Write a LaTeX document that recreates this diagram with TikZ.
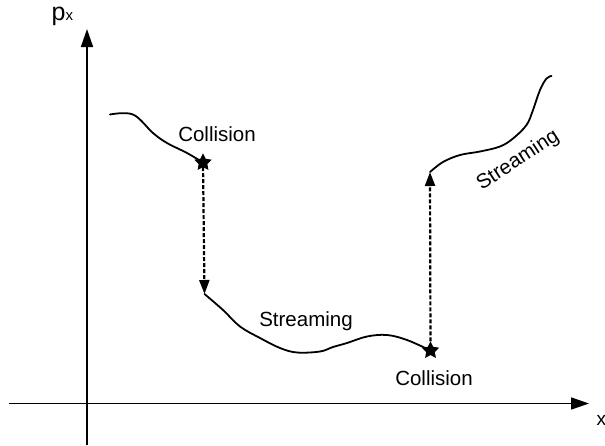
\documentclass[tikz,border=0pt]{standalone}
\usepackage{fontspec}
\setmainfont{Liberation Sans}
\usetikzlibrary{arrows.meta,shapes.geometric}
\begin{document}
\begin{tikzpicture}[x=1pt,y=-1pt,
 curve/.style={line width=1.8pt, line join=round, line cap=round},
 axis/.style={line width=1.6pt,-{Triangle[length=18pt,width=12pt]}},
 jump/.style={line width=2.2pt, dash pattern=on 4pt off 2pt, -{Triangle[length=14pt,width=10pt]}},
 collide/.style={star, star points=5, star point ratio=2.0, fill=black, draw=black, line width=1pt, inner sep=0pt, minimum size=16pt},
 lbl/.style={font=\fontsize{20.5}{24}\selectfont, inner sep=0pt, anchor=base}]
\useasboundingbox (0,0) rectangle (605,445);
% axes
\coordinate (yb) at (87,445);
\coordinate (yt) at (87,29);
\coordinate (xl) at (9,403.5);
\coordinate (xr) at (589,403.5);
\draw[axis] (yb) -- (yt);
\draw[axis] (xl) -- (xr);
\node[inner sep=0pt, anchor=base west, font=\fontsize{25}{27}\selectfont] (plabel) at (51.5,20) {p\fontsize{15}{16}\selectfont x};
\node[inner sep=0pt, anchor=base west, font=\fontsize{19}{21}\selectfont] (xlabel) at (596.5,425.5) {x};
% collisions
\node[collide] (c1) at (203,162.5) {};
\node[collide] (c2) at (430.5,350.5) {};
\coordinate (b1) at (204.5,294);
\coordinate (b2) at (430,172);
% trajectory pieces
\draw[curve] plot[smooth, tension=0.6] coordinates {(110,114.5) (133,114.5) (153,133) (167,143) (187,153) (c1.center)};
\draw[curve] plot[smooth, tension=0.6] coordinates {(b1) (223,310) (240,326.5) (260,338) (280,348) (297,352.5) (320,351.5) (333,347) (347,343) (367,336.5) (387,335) (407,340) (c2.center)};
\draw[curve] plot[smooth, tension=0.6] coordinates {(b2) (443,162) (460,155) (480,151.5) (500,146.5) (513,138.5) (526.5,125) (533,110) (540,90) (546.5,78.5) (551.5,76)};
% jumps
\draw[jump] (c1) -- (b1);
\draw[jump] (c2) -- (b2);
% labels
\node[lbl] (t1) at (217,141) {Collision};
\node[lbl] (t2) at (306,326) {Streaming};
\node[lbl] (t3) at (434,385) {Collision};
\node[lbl, rotate=33] (t4) at (521,165) {Streaming};
\end{tikzpicture}
\end{document}
